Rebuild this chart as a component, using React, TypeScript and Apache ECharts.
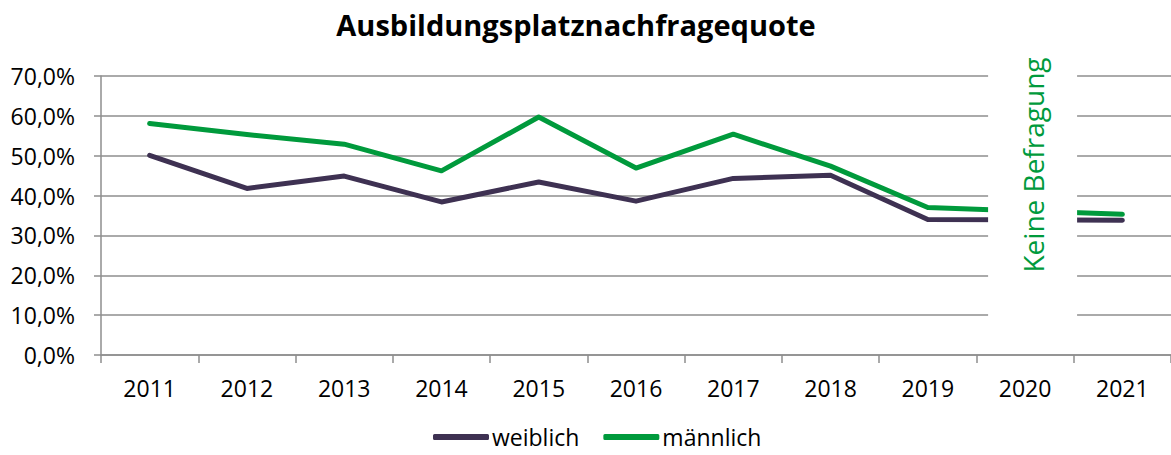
import React, { useEffect, useRef } from "react";
import * as echarts from "echarts";

const years = ["2011", "2012", "2013", "2014", "2015", "2016", "2017", "2018", "2019", "2020", "2021"];
const weiblich: (number | null)[] = [50.1, 41.8, 44.9, 38.4, 43.4, 38.6, 44.3, 45.1, 34.0, null, 33.8];
const maennlich: (number | null)[] = [58.1, 55.3, 52.9, 46.2, 59.7, 46.9, 55.4, 47.4, 37.0, null, 35.3];
const title = "Ausbildungsplatznachfragequote";
const noSurveyYear = "2020";
const noSurveyText = "Keine Befragung";

const FONT = "'Open Sans', sans-serif";
const PURPLE = "#3e3152";
const GREEN = "#009a3c";
const GRID = "#8e8e8e";

export default function App() {
  const ref = useRef<HTMLDivElement>(null);
  useEffect(() => {
    document.body.style.margin = "0";
    const chart = echarts.init(ref.current!, null, { renderer: "svg" });
    chart.setOption({
      animation: false,
      backgroundColor: "#ffffff",
      title: {
        text: title,
        left: 571,
        textAlign: "center",
        top: 5,
        textStyle: { fontFamily: FONT, fontWeight: "bold", fontSize: 29, color: "#000" },
      },
      grid: { left: 101, right: 0, top: 76, bottom: 100, containLabel: false },
      legend: {
        top: 425,
        left: 433,
        padding: 0,
        itemWidth: 56,
        itemHeight: 6,
        itemGap: 24,
        icon: "roundRect",
        textStyle: { fontFamily: FONT, fontSize: 23, lineHeight: 24, color: "#000", padding: [0, 0, 0, -2] },
        data: ["weiblich", "männlich"],
      },
      xAxis: {
        type: "category",
        data: years,
        boundaryGap: true,
        axisLine: { lineStyle: { color: GRID, width: 1.5 } },
        axisTick: { show: true, length: 8, lineStyle: { color: GRID, width: 1.5 } },
        axisLabel: { fontFamily: FONT, fontSize: 23, color: "#000", margin: 21 },
      },
      yAxis: {
        type: "value",
        min: 0,
        max: 70,
        interval: 10,
        axisLine: { show: true, lineStyle: { color: GRID, width: 1.5 } },
        axisTick: { show: true, length: 7, lineStyle: { color: GRID, width: 1.5 } },
        splitLine: { lineStyle: { color: GRID, width: 1.5 } },
        axisLabel: {
          fontFamily: FONT,
          fontSize: 23,
          color: "#000",
          margin: 26,
          formatter: (v: number) => v.toFixed(1).replace(".", ",") + "%",
        },
      },
      series: [
        {
          name: "weiblich",
          type: "line",
          data: weiblich,
          connectNulls: true,
          showSymbol: false,
          symbol: "none",
          color: PURPLE,
          lineStyle: { color: PURPLE, width: 5, cap: "round", join: "round" },
          z: 3,
        },
        {
          name: "männlich",
          type: "line",
          data: maennlich,
          connectNulls: true,
          showSymbol: false,
          symbol: "none",
          color: GREEN,
          lineStyle: { color: GREEN, width: 5, cap: "round", join: "round" },
          z: 3,
        },
      ],
    });
    const cx = chart.convertToPixel({ xAxisIndex: 0 }, noSurveyYear) as number;
    const yTop = chart.convertToPixel({ yAxisIndex: 0 }, 70) as number;
    const yBottom = chart.convertToPixel({ yAxisIndex: 0 }, 0) as number;
    const boxLeft = cx - 37;
    const boxWidth = 89;
    chart.setOption({
      graphic: [
        {
          type: "rect",
          z: 100,
          shape: { x: boxLeft, y: yTop - 30, width: boxWidth, height: yBottom - yTop + 27 },
          style: { fill: "#ffffff" },
        },
        {
          type: "text",
          z: 101,
          x: boxLeft + boxWidth / 2,
          y: 165,
          rotation: Math.PI / 2,
          style: {
            text: noSurveyText,
            fill: GREEN,
            fontFamily: FONT,
            fontSize: 28,
            align: "center",
            verticalAlign: "middle",
          },
        },
      ],
    });
    return () => chart.dispose();
  }, []);
  return <div ref={ref} style={{ width: 1171, height: 455 }} />;
}
